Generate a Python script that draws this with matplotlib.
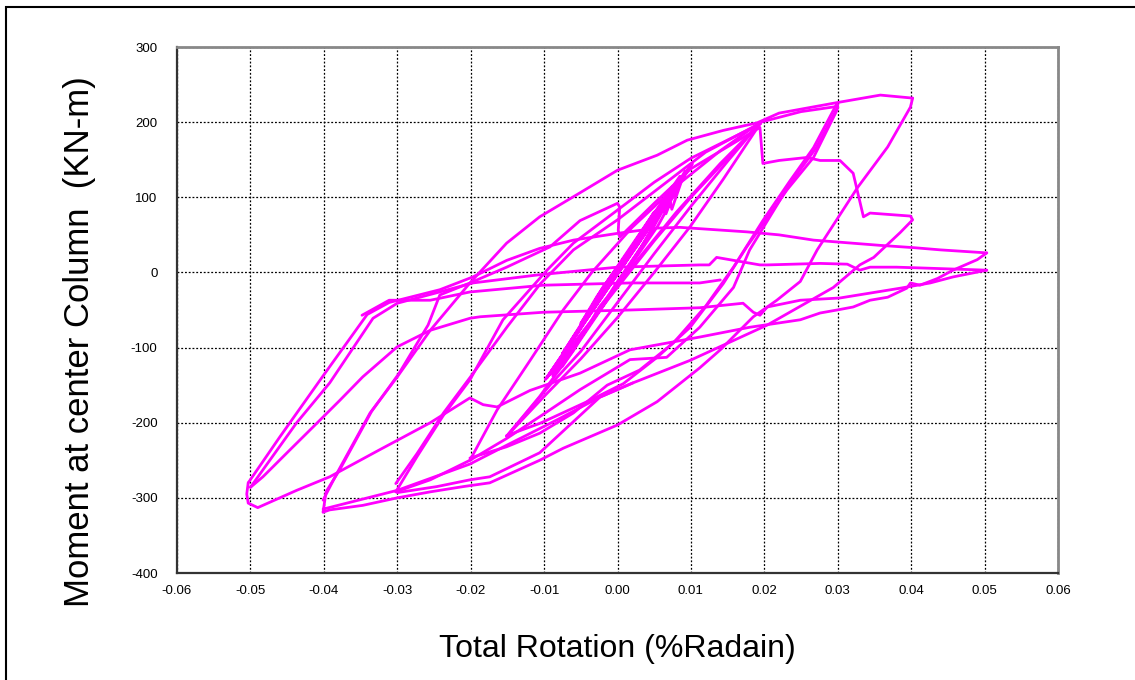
import numpy as np
import matplotlib
matplotlib.use('Agg')
import matplotlib.pyplot as plt
from matplotlib.patches import Rectangle

plt.rcParams['font.family'] = ['Liberation Sans', 'DejaVu Sans']
plt.rcParams['axes.unicode_minus'] = False

# axis ticks
x_ticks = [-0.06, -0.05, -0.04, -0.03, -0.02, -0.01, 0.00, 0.01, 0.02, 0.03, 0.04, 0.05, 0.06]
y_ticks = [-400, -300, -200, -100, 0, 100, 200, 300]

# (rotation, moment) branches
band = [(0, 0), (0.0025, 38), (0.0012, 18), (-0.0025, -30), (-0.001, -8), (0.0025, 40), (0.001, 15),
        (-0.0025, -32), (-0.0008, -5), (0.005, 78), (0.0032, 50), (0.0005, 12), (-0.005, -68),
        (-0.0028, -32), (0.005, 80), (0.0028, 45), (-0.005, -70), (-0.002, -20), (0.0045, 68),
        (0.0052, 72), (0.0075, 112), (0.006, 95), (0.0068, 96), (0.004, 60), (0.001, 18),
        (-0.0075, -108), (-0.0045, -62), (0.0075, 115), (0.0062, 92), (0.0035, 55), (-0.0075, -112),
        (-0.004, -55), (0.005, 80), (0.0058, 88), (0.0062, 82), (0.01, 142), (0.008, 118),
        (0.0082, 108), (0.0045, 62), (-0.0096, -140), (-0.006, -88), (0.0102, 145), (0.008, 115),
        (0.004, 55), (-0.0098, -142)]
band_wide = [(-0.0098, -142), (-0.0065, -105), (-0.002, -45), (0.003, 30), (0.0062, 85),
             (0.0066, 78), (0.0085, 128), (0.0065, 100), (0.002, 35), (-0.003, -40), (-0.008, -120),
             (-0.0092, -136), (-0.0075, -125), (-0.003, -60), (0.0015, 5), (0.0055, 62),
             (0.0072, 92), (0.0074, 84), (0.0092, 135), (0.0075, 105), (0.004, 45), (0.0, -12),
             (-0.0045, -80), (-0.0088, -138)]
up_p02 = [(-0.0098, -142), (-0.005, -82), (0, -20), (0.005, 42), (0.01, 100), (0.015, 152), (0.0195, 200)]
dn_n015a = [(0.0195, 200), (0.015, 148), (0.01, 88), (0.005, 25), (0, -40), (-0.005, -105),
            (-0.0092, -150), (-0.0151, -218)]
up_n015 = [(-0.0151, -218), (-0.0106, -165), (-0.006, -104), (-0.0024, -45), (0.003, 20),
           (0.008, 80), (0.014, 145), (0.0195, 199)]
dn_n015b = [(0.0195, 199), (0.0144, 124), (0.0099, 61), (0.005, 0), (0, -60), (-0.005, -115),
            (-0.01, -165), (-0.0151, -218)]
n015_p03 = [(-0.0151, -217), (-0.0106, -201), (-0.0037, -170), (0.0008, -148), (0.0054, -113),
            (0.0099, -73), (0.0144, -15), (0.0176, 34), (0.0231, 110), (0.0267, 153), (0.0299, 216),
            (0.030, 223)]
p03_n02 = [(0.0299, 225), (0.0267, 166), (0.0235, 122), (0.0198, 69), (0.0158, 7), (0.012, -45),
           (0.0076, -94), (0.003, -130), (-0.0014, -150), (-0.006, -187), (-0.0106, -214),
           (-0.0151, -232), (-0.0201, -247)]
n02_up = [(-0.0201, -250), (-0.0164, -183), (-0.0119, -117), (-0.0074, -50), (-0.0035, 0),
          (0.002, 60), (0.008, 115), (0.014, 162), (0.0195, 200), (0.025, 214), (0.030, 221)]
n02_right = [(-0.0201, -250), (-0.0151, -221), (-0.0106, -192), (-0.0051, -156), (0.0017, -116),
             (0.0067, -113), (0.0112, -73), (0.0158, -20), (0.018, 30), (0.0235, 118),
             (0.027, 165), (0.030, 220)]
n03_up_a = [(-0.0302, -292), (-0.0273, -245), (-0.0237, -190), (-0.0201, -143), (-0.0156, -63),
            (-0.0096, 3), (-0.006, 39), (0, 83), (0.005, 120), (0.01, 152), (0.0195, 198)]
n03_up_b = [(-0.0302, -281), (-0.0273, -241), (-0.0237, -187), (-0.0201, -140), (-0.015, -72),
            (-0.0105, -15), (-0.006, 30), (0.0, 70), (0.006, 115), (0.012, 160), (0.0195, 199)]
n03_right_a = [(-0.0302, -292), (-0.0255, -276), (-0.0201, -250)]
n03_right_b = [(-0.030, -293), (-0.0246, -285), (-0.0201, -276), (-0.0174, -272), (-0.0106, -240),
               (-0.0024, -166), (0.0021, -147)]
n04_p04 = [(-0.0401, -319), (-0.0392, -316), (-0.0347, -310), (-0.030, -300), (-0.0255, -292),
           (-0.021, -285), (-0.0174, -280), (-0.0106, -250), (-0.0074, -234), (0.0, -203),
           (0.0054, -172), (0.0112, -127), (0.014, -103), (0.0185, -59), (0.0217, -37),
           (0.0249, -12), (0.0272, 30), (0.0327, 113), (0.0368, 167), (0.0399, 220), (0.0402, 232)]
envelope = [(-0.0401, -303), (-0.0382, -267), (-0.0337, -187), (-0.030, -139), (-0.0255, -77),
            (-0.0201, -14), (-0.0151, 39), (-0.0106, 74), (-0.0051, 106), (0, 136), (0.0054, 156),
            (0.0095, 176), (0.0144, 189), (0.019, 199), (0.022, 212), (0.0299, 226), (0.0358, 236),
            (0.0402, 232)]
drop_cycle = [(-0.0401, -319), (-0.0397, -292), (-0.0378, -262), (-0.0335, -185), (-0.0298, -135),
              (-0.0258, -70), (-0.0242, -30), (-0.0201, -14), (-0.0151, 7), (-0.0092, 34),
              (-0.0051, 69), (0, 92), (0.0003, 87), (0.0001, 56), (0.0003, 47), (0.005, 92),
              (0.01, 138), (0.0194, 193), (0.0198, 145), (0.022, 149), (0.0258, 153), (0.0276, 149),
              (0.0303, 149), (0.0321, 132), (0.0335, 74), (0.0344, 79), (0.0399, 75), (0.0402, 70),
              (0.0385, 53), (0.0349, 20), (0.033, 10), (0.0294, -20), (0.0204, -70), (0.0099, -117),
              (0.0021, -147), (-0.0024, -166), (-0.008, -195), (-0.0151, -230), (-0.0201, -255),
              (-0.030, -290), (-0.0401, -315)]
n05_bottom = [(-0.0503, -280), (-0.0505, -295), (-0.0503, -307), (-0.049, -313), (-0.0437, -290),
              (-0.0392, -272), (-0.0324, -236), (-0.0255, -200), (-0.0201, -167), (-0.0183, -176),
              (-0.0164, -179), (-0.0119, -157), (-0.0051, -134), (0.0017, -103), (0.0112, -86),
              (0.018, -73), (0.0249, -63), (0.0276, -54), (0.0299, -50), (0.0321, -46),
              (0.0344, -37), (0.0368, -33), (0.0394, -21), (0.0399, -14), (0.0412, -17),
              (0.0436, -8), (0.0457, 3), (0.049, 17), (0.0503, 26)]
p05_a = [(0.0503, 26), (0.044, 30), (0.0403, 33), (0.0358, 36), (0.0267, 43), (0.022, 50),
         (0.0176, 54), (0.0085, 60), (0.0054, 59), (0, 52), (-0.006, 43), (-0.0106, 32),
         (-0.0151, 16), (-0.0197, -6), (-0.0242, -23), (-0.0311, -40), (-0.0341, -56),
         (-0.0402, -139), (-0.046, -219), (-0.0503, -280)]
n05_mid = [(-0.050, -286), (-0.0483, -272), (-0.0446, -236), (-0.0415, -206), (-0.0378, -170),
           (-0.0347, -139), (-0.030, -99), (-0.0255, -77), (-0.0201, -61), (-0.0187, -59),
           (-0.0101, -53), (0.0017, -50), (0.0112, -47), (0.0171, -41), (0.0185, -53),
           (0.0194, -57), (0.0204, -46), (0.0249, -37), (0.0303, -34), (0.0385, -21),
           (0.0426, -14), (0.0457, -6), (0.0503, 3)]
p05_b = [(0.0503, 3), (0.0412, 6), (0.038, 7), (0.0344, 7), (0.033, 3), (0.0313, 11), (0.0276, 12),
         (0.0204, 10), (0.0194, 10), (0.0135, 20), (0.0125, 10), (0.0112, 10), (0, 7),
         (-0.0106, -3), (-0.0197, -14), (-0.0246, -27), (-0.030, -41), (-0.0333, -61),
         (-0.0392, -147), (-0.0437, -200), (-0.050, -286)]
mid_flat = [(0.014, -10), (0.0112, -14), (0.0017, -14), (-0.0101, -17), (-0.0201, -26),
            (-0.0255, -37), (-0.0311, -37), (-0.0348, -57)]

branches = [band, band_wide, up_p02, dn_n015a, up_n015, dn_n015b, n015_p03, p03_n02, n02_up,
            n02_right, n03_up_a, n03_up_b, n03_right_a, n03_right_b, n04_p04, envelope, drop_cycle,
            n05_bottom, p05_a, n05_mid, p05_b, mid_flat]

fig = plt.figure(figsize=(11.35, 6.8), dpi=100)
ax = fig.add_axes([177 / 1135, 107 / 680, 881 / 1135, 526 / 680])

for br in branches:
    xs = [p[0] for p in br]
    ys = [p[1] for p in br]
    ax.plot(xs, ys, color='#ff00ff', lw=2.0, solid_joinstyle='round', solid_capstyle='round')

ax.set_xlim(-0.06, 0.06)
ax.set_ylim(-400, 300)
ax.set_xticks(x_ticks)
ax.set_xticklabels(['%.2f' % v for v in x_ticks])
ax.set_yticks(y_ticks)
ax.tick_params(length=0, labelsize=9.5, pad=9)
ax.tick_params(axis='y', pad=14)
ax.grid(True, color='black', linestyle=(0, (1.5, 1.5)), linewidth=0.9)
ax.set_axisbelow(True)

for s in ['left', 'bottom']:
    ax.spines[s].set_color('#333333')
    ax.spines[s].set_linewidth(1.6)
for s in ['top', 'right']:
    ax.spines[s].set_color('#888888')
    ax.spines[s].set_linewidth(2.0)

ax.set_xlabel('Total Rotation (%Radain)', fontsize=23, labelpad=26)
ax.set_ylabel('Moment at center Column  (KN-m)', fontsize=25)
ax.yaxis.set_label_coords(-0.092, 0.44)

fig.patches.append(Rectangle((6 / 1135, -0.5), 2.0, 0.5 + 1 - 7 / 680, transform=fig.transFigure,
                             fill=False, edgecolor='black', lw=1.5, clip_on=False))

fig.savefig('out.png', dpi=100)
